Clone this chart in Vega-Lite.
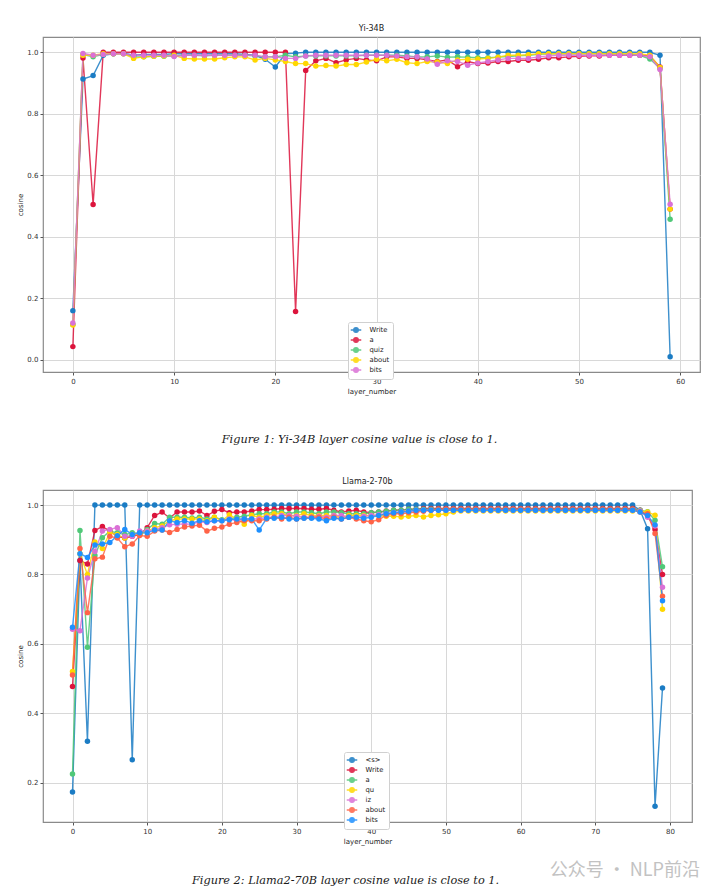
{
"$schema": "https://vega.github.io/schema/vega-lite/v6.json",
"background": "white",
"padding": {"left": 16, "top": 24, "right": 10, "bottom": 0},
"spacing": 8,
"resolve": {"scale": {"color": "independent", "x": "independent", "y": "independent"}, "legend": {"color": "independent"}},
"config": {
  "view": {"stroke": "#8a8a8a", "strokeWidth": 1.2},
  "axis": {"labelFont": "DejaVu Sans", "labelFontSize": 7, "labelColor": "#333", "titleFont": "DejaVu Sans", "titleFontSize": 7, "titleFontWeight": "normal", "titleColor": "#222", "gridColor": "#d8d8d8", "gridWidth": 1, "tickColor": "#555", "tickSize": 3, "labelPadding": 2, "domain": false, "titlePadding": 3},
  "title": {"font": "DejaVu Sans", "fontSize": 8, "fontWeight": "normal", "color": "#222", "offset": 4},
  "legend": {"labelFont": "DejaVu Sans", "labelFontSize": 6.8, "labelColor": "#222", "padding": 3.5, "strokeColor": "#d0d0d0", "fillColor": "white", "cornerRadius": 2, "title": null}
},
"datasets": {
"yi": [
{"layer":0,"token":"Write","cosine":0.16},{"layer":1,"token":"Write","cosine":0.913},{"layer":2,"token":"Write","cosine":0.924},{"layer":3,"token":"Write","cosine":0.99},{"layer":4,"token":"Write","cosine":0.995},{"layer":5,"token":"Write","cosine":0.997},{"layer":6,"token":"Write","cosine":0.99},{"layer":7,"token":"Write","cosine":0.993},{"layer":8,"token":"Write","cosine":0.993},{"layer":9,"token":"Write","cosine":0.993},{"layer":10,"token":"Write","cosine":0.995},{"layer":11,"token":"Write","cosine":0.995},{"layer":12,"token":"Write","cosine":0.995},{"layer":13,"token":"Write","cosine":0.995},{"layer":14,"token":"Write","cosine":0.995},{"layer":15,"token":"Write","cosine":0.995},{"layer":16,"token":"Write","cosine":0.995},{"layer":17,"token":"Write","cosine":0.993},{"layer":18,"token":"Write","cosine":0.99},{"layer":19,"token":"Write","cosine":0.977},{"layer":20,"token":"Write","cosine":0.952},{"layer":21,"token":"Write","cosine":0.995},{"layer":22,"token":"Write","cosine":0.997},{"layer":23,"token":"Write","cosine":1.0},{"layer":24,"token":"Write","cosine":1.0},{"layer":25,"token":"Write","cosine":1.0},{"layer":26,"token":"Write","cosine":1.0},{"layer":27,"token":"Write","cosine":1.0},{"layer":28,"token":"Write","cosine":1.0},{"layer":29,"token":"Write","cosine":1.0},{"layer":30,"token":"Write","cosine":1.0},{"layer":31,"token":"Write","cosine":1.0},{"layer":32,"token":"Write","cosine":1.0},{"layer":33,"token":"Write","cosine":1.0},{"layer":34,"token":"Write","cosine":1.0},{"layer":35,"token":"Write","cosine":1.0},{"layer":36,"token":"Write","cosine":1.0},{"layer":37,"token":"Write","cosine":1.0},{"layer":38,"token":"Write","cosine":1.0},{"layer":39,"token":"Write","cosine":1.0},{"layer":40,"token":"Write","cosine":1.0},{"layer":41,"token":"Write","cosine":1.0},{"layer":42,"token":"Write","cosine":1.0},{"layer":43,"token":"Write","cosine":1.0},{"layer":44,"token":"Write","cosine":1.0},{"layer":45,"token":"Write","cosine":1.0},{"layer":46,"token":"Write","cosine":1.0},{"layer":47,"token":"Write","cosine":1.0},{"layer":48,"token":"Write","cosine":1.0},{"layer":49,"token":"Write","cosine":1.0},{"layer":50,"token":"Write","cosine":1.0},{"layer":51,"token":"Write","cosine":1.0},{"layer":52,"token":"Write","cosine":1.0},{"layer":53,"token":"Write","cosine":1.0},{"layer":54,"token":"Write","cosine":1.0},{"layer":55,"token":"Write","cosine":1.0},{"layer":56,"token":"Write","cosine":1.0},{"layer":57,"token":"Write","cosine":1.0},{"layer":58,"token":"Write","cosine":0.99},{"layer":59,"token":"Write","cosine":0.01},
{"layer":0,"token":"a","cosine":0.043},{"layer":1,"token":"a","cosine":0.981},{"layer":2,"token":"a","cosine":0.505},{"layer":3,"token":"a","cosine":1.0},{"layer":4,"token":"a","cosine":1.0},{"layer":5,"token":"a","cosine":1.0},{"layer":6,"token":"a","cosine":1.0},{"layer":7,"token":"a","cosine":1.0},{"layer":8,"token":"a","cosine":1.0},{"layer":9,"token":"a","cosine":1.0},{"layer":10,"token":"a","cosine":1.0},{"layer":11,"token":"a","cosine":1.0},{"layer":12,"token":"a","cosine":1.0},{"layer":13,"token":"a","cosine":1.0},{"layer":14,"token":"a","cosine":1.0},{"layer":15,"token":"a","cosine":1.0},{"layer":16,"token":"a","cosine":1.0},{"layer":17,"token":"a","cosine":1.0},{"layer":18,"token":"a","cosine":1.0},{"layer":19,"token":"a","cosine":1.0},{"layer":20,"token":"a","cosine":1.0},{"layer":21,"token":"a","cosine":1.0},{"layer":22,"token":"a","cosine":0.157},{"layer":23,"token":"a","cosine":0.941},{"layer":24,"token":"a","cosine":0.972},{"layer":25,"token":"a","cosine":0.98},{"layer":26,"token":"a","cosine":0.966},{"layer":27,"token":"a","cosine":0.975},{"layer":28,"token":"a","cosine":0.98},{"layer":29,"token":"a","cosine":0.975},{"layer":30,"token":"a","cosine":0.972},{"layer":31,"token":"a","cosine":0.985},{"layer":32,"token":"a","cosine":0.985},{"layer":33,"token":"a","cosine":0.98},{"layer":34,"token":"a","cosine":0.98},{"layer":35,"token":"a","cosine":0.975},{"layer":36,"token":"a","cosine":0.97},{"layer":37,"token":"a","cosine":0.975},{"layer":38,"token":"a","cosine":0.953},{"layer":39,"token":"a","cosine":0.97},{"layer":40,"token":"a","cosine":0.963},{"layer":41,"token":"a","cosine":0.965},{"layer":42,"token":"a","cosine":0.97},{"layer":43,"token":"a","cosine":0.97},{"layer":44,"token":"a","cosine":0.974},{"layer":45,"token":"a","cosine":0.974},{"layer":46,"token":"a","cosine":0.977},{"layer":47,"token":"a","cosine":0.982},{"layer":48,"token":"a","cosine":0.982},{"layer":49,"token":"a","cosine":0.985},{"layer":50,"token":"a","cosine":0.987},{"layer":51,"token":"a","cosine":0.988},{"layer":52,"token":"a","cosine":0.988},{"layer":53,"token":"a","cosine":0.99},{"layer":54,"token":"a","cosine":0.99},{"layer":55,"token":"a","cosine":0.99},{"layer":56,"token":"a","cosine":0.99},{"layer":57,"token":"a","cosine":0.988},{"layer":58,"token":"a","cosine":0.952},{"layer":59,"token":"a","cosine":0.49},
{"layer":0,"token":"quiz","cosine":0.115},{"layer":1,"token":"quiz","cosine":0.992},{"layer":2,"token":"quiz","cosine":0.985},{"layer":3,"token":"quiz","cosine":0.993},{"layer":4,"token":"quiz","cosine":0.995},{"layer":5,"token":"quiz","cosine":0.995},{"layer":6,"token":"quiz","cosine":0.985},{"layer":7,"token":"quiz","cosine":0.985},{"layer":8,"token":"quiz","cosine":0.987},{"layer":9,"token":"quiz","cosine":0.987},{"layer":10,"token":"quiz","cosine":0.988},{"layer":11,"token":"quiz","cosine":0.99},{"layer":12,"token":"quiz","cosine":0.99},{"layer":13,"token":"quiz","cosine":0.988},{"layer":14,"token":"quiz","cosine":0.99},{"layer":15,"token":"quiz","cosine":0.99},{"layer":16,"token":"quiz","cosine":0.99},{"layer":17,"token":"quiz","cosine":0.99},{"layer":18,"token":"quiz","cosine":0.988},{"layer":19,"token":"quiz","cosine":0.985},{"layer":20,"token":"quiz","cosine":0.985},{"layer":21,"token":"quiz","cosine":0.99},{"layer":22,"token":"quiz","cosine":0.985},{"layer":23,"token":"quiz","cosine":0.988},{"layer":24,"token":"quiz","cosine":0.988},{"layer":25,"token":"quiz","cosine":0.988},{"layer":26,"token":"quiz","cosine":0.988},{"layer":27,"token":"quiz","cosine":0.988},{"layer":28,"token":"quiz","cosine":0.988},{"layer":29,"token":"quiz","cosine":0.99},{"layer":30,"token":"quiz","cosine":0.99},{"layer":31,"token":"quiz","cosine":0.99},{"layer":32,"token":"quiz","cosine":0.99},{"layer":33,"token":"quiz","cosine":0.988},{"layer":34,"token":"quiz","cosine":0.985},{"layer":35,"token":"quiz","cosine":0.985},{"layer":36,"token":"quiz","cosine":0.988},{"layer":37,"token":"quiz","cosine":0.984},{"layer":38,"token":"quiz","cosine":0.985},{"layer":39,"token":"quiz","cosine":0.984},{"layer":40,"token":"quiz","cosine":0.982},{"layer":41,"token":"quiz","cosine":0.982},{"layer":42,"token":"quiz","cosine":0.984},{"layer":43,"token":"quiz","cosine":0.986},{"layer":44,"token":"quiz","cosine":0.988},{"layer":45,"token":"quiz","cosine":0.99},{"layer":46,"token":"quiz","cosine":0.993},{"layer":47,"token":"quiz","cosine":0.995},{"layer":48,"token":"quiz","cosine":0.995},{"layer":49,"token":"quiz","cosine":0.995},{"layer":50,"token":"quiz","cosine":0.995},{"layer":51,"token":"quiz","cosine":0.995},{"layer":52,"token":"quiz","cosine":0.995},{"layer":53,"token":"quiz","cosine":0.995},{"layer":54,"token":"quiz","cosine":0.995},{"layer":55,"token":"quiz","cosine":0.993},{"layer":56,"token":"quiz","cosine":0.99},{"layer":57,"token":"quiz","cosine":0.978},{"layer":58,"token":"quiz","cosine":0.948},{"layer":59,"token":"quiz","cosine":0.457},
{"layer":0,"token":"about","cosine":0.113},{"layer":1,"token":"about","cosine":0.99},{"layer":2,"token":"about","cosine":0.99},{"layer":3,"token":"about","cosine":0.995},{"layer":4,"token":"about","cosine":0.995},{"layer":5,"token":"about","cosine":0.995},{"layer":6,"token":"about","cosine":0.98},{"layer":7,"token":"about","cosine":0.985},{"layer":8,"token":"about","cosine":0.987},{"layer":9,"token":"about","cosine":0.988},{"layer":10,"token":"about","cosine":0.99},{"layer":11,"token":"about","cosine":0.98},{"layer":12,"token":"about","cosine":0.978},{"layer":13,"token":"about","cosine":0.978},{"layer":14,"token":"about","cosine":0.978},{"layer":15,"token":"about","cosine":0.982},{"layer":16,"token":"about","cosine":0.985},{"layer":17,"token":"about","cosine":0.985},{"layer":18,"token":"about","cosine":0.975},{"layer":19,"token":"about","cosine":0.98},{"layer":20,"token":"about","cosine":0.975},{"layer":21,"token":"about","cosine":0.97},{"layer":22,"token":"about","cosine":0.963},{"layer":23,"token":"about","cosine":0.963},{"layer":24,"token":"about","cosine":0.955},{"layer":25,"token":"about","cosine":0.957},{"layer":26,"token":"about","cosine":0.955},{"layer":27,"token":"about","cosine":0.96},{"layer":28,"token":"about","cosine":0.96},{"layer":29,"token":"about","cosine":0.968},{"layer":30,"token":"about","cosine":0.977},{"layer":31,"token":"about","cosine":0.972},{"layer":32,"token":"about","cosine":0.977},{"layer":33,"token":"about","cosine":0.966},{"layer":34,"token":"about","cosine":0.963},{"layer":35,"token":"about","cosine":0.97},{"layer":36,"token":"about","cosine":0.968},{"layer":37,"token":"about","cosine":0.963},{"layer":38,"token":"about","cosine":0.975},{"layer":39,"token":"about","cosine":0.977},{"layer":40,"token":"about","cosine":0.978},{"layer":41,"token":"about","cosine":0.98},{"layer":42,"token":"about","cosine":0.984},{"layer":43,"token":"about","cosine":0.99},{"layer":44,"token":"about","cosine":0.99},{"layer":45,"token":"about","cosine":0.992},{"layer":46,"token":"about","cosine":0.995},{"layer":47,"token":"about","cosine":0.995},{"layer":48,"token":"about","cosine":0.995},{"layer":49,"token":"about","cosine":0.995},{"layer":50,"token":"about","cosine":0.995},{"layer":51,"token":"about","cosine":0.995},{"layer":52,"token":"about","cosine":0.995},{"layer":53,"token":"about","cosine":0.995},{"layer":54,"token":"about","cosine":0.995},{"layer":55,"token":"about","cosine":0.995},{"layer":56,"token":"about","cosine":0.995},{"layer":57,"token":"about","cosine":0.99},{"layer":58,"token":"about","cosine":0.95},{"layer":59,"token":"about","cosine":0.49},
{"layer":0,"token":"bits","cosine":0.12},{"layer":1,"token":"bits","cosine":0.996},{"layer":2,"token":"bits","cosine":0.99},{"layer":3,"token":"bits","cosine":0.993},{"layer":4,"token":"bits","cosine":0.995},{"layer":5,"token":"bits","cosine":0.995},{"layer":6,"token":"bits","cosine":0.99},{"layer":7,"token":"bits","cosine":0.99},{"layer":8,"token":"bits","cosine":0.99},{"layer":9,"token":"bits","cosine":0.99},{"layer":10,"token":"bits","cosine":0.986},{"layer":11,"token":"bits","cosine":0.99},{"layer":12,"token":"bits","cosine":0.99},{"layer":13,"token":"bits","cosine":0.99},{"layer":14,"token":"bits","cosine":0.99},{"layer":15,"token":"bits","cosine":0.99},{"layer":16,"token":"bits","cosine":0.99},{"layer":17,"token":"bits","cosine":0.99},{"layer":18,"token":"bits","cosine":0.99},{"layer":19,"token":"bits","cosine":0.985},{"layer":20,"token":"bits","cosine":0.985},{"layer":21,"token":"bits","cosine":0.98},{"layer":22,"token":"bits","cosine":0.98},{"layer":23,"token":"bits","cosine":0.988},{"layer":24,"token":"bits","cosine":0.99},{"layer":25,"token":"bits","cosine":0.99},{"layer":26,"token":"bits","cosine":0.99},{"layer":27,"token":"bits","cosine":0.99},{"layer":28,"token":"bits","cosine":0.99},{"layer":29,"token":"bits","cosine":0.99},{"layer":30,"token":"bits","cosine":0.99},{"layer":31,"token":"bits","cosine":0.99},{"layer":32,"token":"bits","cosine":0.988},{"layer":33,"token":"bits","cosine":0.985},{"layer":34,"token":"bits","cosine":0.985},{"layer":35,"token":"bits","cosine":0.978},{"layer":36,"token":"bits","cosine":0.961},{"layer":37,"token":"bits","cosine":0.972},{"layer":38,"token":"bits","cosine":0.97},{"layer":39,"token":"bits","cosine":0.958},{"layer":40,"token":"bits","cosine":0.965},{"layer":41,"token":"bits","cosine":0.97},{"layer":42,"token":"bits","cosine":0.975},{"layer":43,"token":"bits","cosine":0.98},{"layer":44,"token":"bits","cosine":0.98},{"layer":45,"token":"bits","cosine":0.98},{"layer":46,"token":"bits","cosine":0.985},{"layer":47,"token":"bits","cosine":0.988},{"layer":48,"token":"bits","cosine":0.99},{"layer":49,"token":"bits","cosine":0.99},{"layer":50,"token":"bits","cosine":0.99},{"layer":51,"token":"bits","cosine":0.99},{"layer":52,"token":"bits","cosine":0.99},{"layer":53,"token":"bits","cosine":0.99},{"layer":54,"token":"bits","cosine":0.99},{"layer":55,"token":"bits","cosine":0.99},{"layer":56,"token":"bits","cosine":0.99},{"layer":57,"token":"bits","cosine":0.985},{"layer":58,"token":"bits","cosine":0.944},{"layer":59,"token":"bits","cosine":0.506}
],
"llama": [
{"layer":0,"token":"<s>","cosine":0.173},{"layer":1,"token":"<s>","cosine":0.84},{"layer":2,"token":"<s>","cosine":0.319},{"layer":3,"token":"<s>","cosine":1.0},{"layer":4,"token":"<s>","cosine":1.0},{"layer":5,"token":"<s>","cosine":1.0},{"layer":6,"token":"<s>","cosine":1.0},{"layer":7,"token":"<s>","cosine":1.0},{"layer":8,"token":"<s>","cosine":0.266},{"layer":9,"token":"<s>","cosine":1.0},{"layer":10,"token":"<s>","cosine":1.0},{"layer":11,"token":"<s>","cosine":1.0},{"layer":12,"token":"<s>","cosine":1.0},{"layer":13,"token":"<s>","cosine":1.0},{"layer":14,"token":"<s>","cosine":1.0},{"layer":15,"token":"<s>","cosine":1.0},{"layer":16,"token":"<s>","cosine":1.0},{"layer":17,"token":"<s>","cosine":1.0},{"layer":18,"token":"<s>","cosine":1.0},{"layer":19,"token":"<s>","cosine":1.0},{"layer":20,"token":"<s>","cosine":1.0},{"layer":21,"token":"<s>","cosine":1.0},{"layer":22,"token":"<s>","cosine":1.0},{"layer":23,"token":"<s>","cosine":1.0},{"layer":24,"token":"<s>","cosine":1.0},{"layer":25,"token":"<s>","cosine":1.0},{"layer":26,"token":"<s>","cosine":1.0},{"layer":27,"token":"<s>","cosine":1.0},{"layer":28,"token":"<s>","cosine":1.0},{"layer":29,"token":"<s>","cosine":1.0},{"layer":30,"token":"<s>","cosine":1.0},{"layer":31,"token":"<s>","cosine":1.0},{"layer":32,"token":"<s>","cosine":1.0},{"layer":33,"token":"<s>","cosine":1.0},{"layer":34,"token":"<s>","cosine":1.0},{"layer":35,"token":"<s>","cosine":1.0},{"layer":36,"token":"<s>","cosine":1.0},{"layer":37,"token":"<s>","cosine":1.0},{"layer":38,"token":"<s>","cosine":1.0},{"layer":39,"token":"<s>","cosine":1.0},{"layer":40,"token":"<s>","cosine":1.0},{"layer":41,"token":"<s>","cosine":1.0},{"layer":42,"token":"<s>","cosine":1.0},{"layer":43,"token":"<s>","cosine":1.0},{"layer":44,"token":"<s>","cosine":1.0},{"layer":45,"token":"<s>","cosine":1.0},{"layer":46,"token":"<s>","cosine":1.0},{"layer":47,"token":"<s>","cosine":1.0},{"layer":48,"token":"<s>","cosine":1.0},{"layer":49,"token":"<s>","cosine":1.0},{"layer":50,"token":"<s>","cosine":1.0},{"layer":51,"token":"<s>","cosine":1.0},{"layer":52,"token":"<s>","cosine":1.0},{"layer":53,"token":"<s>","cosine":1.0},{"layer":54,"token":"<s>","cosine":1.0},{"layer":55,"token":"<s>","cosine":1.0},{"layer":56,"token":"<s>","cosine":1.0},{"layer":57,"token":"<s>","cosine":1.0},{"layer":58,"token":"<s>","cosine":1.0},{"layer":59,"token":"<s>","cosine":1.0},{"layer":60,"token":"<s>","cosine":1.0},{"layer":61,"token":"<s>","cosine":1.0},{"layer":62,"token":"<s>","cosine":1.0},{"layer":63,"token":"<s>","cosine":1.0},{"layer":64,"token":"<s>","cosine":1.0},{"layer":65,"token":"<s>","cosine":1.0},{"layer":66,"token":"<s>","cosine":1.0},{"layer":67,"token":"<s>","cosine":1.0},{"layer":68,"token":"<s>","cosine":1.0},{"layer":69,"token":"<s>","cosine":1.0},{"layer":70,"token":"<s>","cosine":1.0},{"layer":71,"token":"<s>","cosine":1.0},{"layer":72,"token":"<s>","cosine":1.0},{"layer":73,"token":"<s>","cosine":1.0},{"layer":74,"token":"<s>","cosine":1.0},{"layer":75,"token":"<s>","cosine":1.0},{"layer":76,"token":"<s>","cosine":0.985},{"layer":77,"token":"<s>","cosine":0.932},{"layer":78,"token":"<s>","cosine":0.132},{"layer":79,"token":"<s>","cosine":0.473},
{"layer":0,"token":"Write","cosine":0.477},{"layer":1,"token":"Write","cosine":0.84},{"layer":2,"token":"Write","cosine":0.83},{"layer":3,"token":"Write","cosine":0.927},{"layer":4,"token":"Write","cosine":0.938},{"layer":5,"token":"Write","cosine":0.925},{"layer":6,"token":"Write","cosine":0.91},{"layer":7,"token":"Write","cosine":0.905},{"layer":8,"token":"Write","cosine":0.91},{"layer":9,"token":"Write","cosine":0.915},{"layer":10,"token":"Write","cosine":0.935},{"layer":11,"token":"Write","cosine":0.97},{"layer":12,"token":"Write","cosine":0.98},{"layer":13,"token":"Write","cosine":0.963},{"layer":14,"token":"Write","cosine":0.98},{"layer":15,"token":"Write","cosine":0.98},{"layer":16,"token":"Write","cosine":0.98},{"layer":17,"token":"Write","cosine":0.983},{"layer":18,"token":"Write","cosine":0.97},{"layer":19,"token":"Write","cosine":0.982},{"layer":20,"token":"Write","cosine":0.987},{"layer":21,"token":"Write","cosine":0.978},{"layer":22,"token":"Write","cosine":0.98},{"layer":23,"token":"Write","cosine":0.98},{"layer":24,"token":"Write","cosine":0.983},{"layer":25,"token":"Write","cosine":0.987},{"layer":26,"token":"Write","cosine":0.987},{"layer":27,"token":"Write","cosine":0.988},{"layer":28,"token":"Write","cosine":0.99},{"layer":29,"token":"Write","cosine":0.99},{"layer":30,"token":"Write","cosine":0.99},{"layer":31,"token":"Write","cosine":0.99},{"layer":32,"token":"Write","cosine":0.988},{"layer":33,"token":"Write","cosine":0.988},{"layer":34,"token":"Write","cosine":0.99},{"layer":35,"token":"Write","cosine":0.985},{"layer":36,"token":"Write","cosine":0.98},{"layer":37,"token":"Write","cosine":0.983},{"layer":38,"token":"Write","cosine":0.985},{"layer":39,"token":"Write","cosine":0.98},{"layer":40,"token":"Write","cosine":0.978},{"layer":41,"token":"Write","cosine":0.98},{"layer":42,"token":"Write","cosine":0.983},{"layer":43,"token":"Write","cosine":0.985},{"layer":44,"token":"Write","cosine":0.985},{"layer":45,"token":"Write","cosine":0.988},{"layer":46,"token":"Write","cosine":0.988},{"layer":47,"token":"Write","cosine":0.99},{"layer":48,"token":"Write","cosine":0.99},{"layer":49,"token":"Write","cosine":0.99},{"layer":50,"token":"Write","cosine":0.99},{"layer":51,"token":"Write","cosine":0.99},{"layer":52,"token":"Write","cosine":0.99},{"layer":53,"token":"Write","cosine":0.99},{"layer":54,"token":"Write","cosine":0.99},{"layer":55,"token":"Write","cosine":0.99},{"layer":56,"token":"Write","cosine":0.99},{"layer":57,"token":"Write","cosine":0.99},{"layer":58,"token":"Write","cosine":0.99},{"layer":59,"token":"Write","cosine":0.99},{"layer":60,"token":"Write","cosine":0.99},{"layer":61,"token":"Write","cosine":0.99},{"layer":62,"token":"Write","cosine":0.99},{"layer":63,"token":"Write","cosine":0.99},{"layer":64,"token":"Write","cosine":0.99},{"layer":65,"token":"Write","cosine":0.99},{"layer":66,"token":"Write","cosine":0.99},{"layer":67,"token":"Write","cosine":0.99},{"layer":68,"token":"Write","cosine":0.99},{"layer":69,"token":"Write","cosine":0.99},{"layer":70,"token":"Write","cosine":0.99},{"layer":71,"token":"Write","cosine":0.99},{"layer":72,"token":"Write","cosine":0.99},{"layer":73,"token":"Write","cosine":0.99},{"layer":74,"token":"Write","cosine":0.99},{"layer":75,"token":"Write","cosine":0.99},{"layer":76,"token":"Write","cosine":0.985},{"layer":77,"token":"Write","cosine":0.97},{"layer":78,"token":"Write","cosine":0.93},{"layer":79,"token":"Write","cosine":0.8},
{"layer":0,"token":"a","cosine":0.225},{"layer":1,"token":"a","cosine":0.927},{"layer":2,"token":"a","cosine":0.59},{"layer":3,"token":"a","cosine":0.855},{"layer":4,"token":"a","cosine":0.906},{"layer":5,"token":"a","cosine":0.925},{"layer":6,"token":"a","cosine":0.92},{"layer":7,"token":"a","cosine":0.915},{"layer":8,"token":"a","cosine":0.92},{"layer":9,"token":"a","cosine":0.92},{"layer":10,"token":"a","cosine":0.93},{"layer":11,"token":"a","cosine":0.947},{"layer":12,"token":"a","cosine":0.945},{"layer":13,"token":"a","cosine":0.965},{"layer":14,"token":"a","cosine":0.965},{"layer":15,"token":"a","cosine":0.965},{"layer":16,"token":"a","cosine":0.963},{"layer":17,"token":"a","cosine":0.965},{"layer":18,"token":"a","cosine":0.96},{"layer":19,"token":"a","cosine":0.965},{"layer":20,"token":"a","cosine":0.958},{"layer":21,"token":"a","cosine":0.96},{"layer":22,"token":"a","cosine":0.965},{"layer":23,"token":"a","cosine":0.968},{"layer":24,"token":"a","cosine":0.972},{"layer":25,"token":"a","cosine":0.975},{"layer":26,"token":"a","cosine":0.975},{"layer":27,"token":"a","cosine":0.98},{"layer":28,"token":"a","cosine":0.98},{"layer":29,"token":"a","cosine":0.975},{"layer":30,"token":"a","cosine":0.98},{"layer":31,"token":"a","cosine":0.98},{"layer":32,"token":"a","cosine":0.978},{"layer":33,"token":"a","cosine":0.975},{"layer":34,"token":"a","cosine":0.98},{"layer":35,"token":"a","cosine":0.98},{"layer":36,"token":"a","cosine":0.978},{"layer":37,"token":"a","cosine":0.975},{"layer":38,"token":"a","cosine":0.975},{"layer":39,"token":"a","cosine":0.975},{"layer":40,"token":"a","cosine":0.978},{"layer":41,"token":"a","cosine":0.98},{"layer":42,"token":"a","cosine":0.982},{"layer":43,"token":"a","cosine":0.985},{"layer":44,"token":"a","cosine":0.985},{"layer":45,"token":"a","cosine":0.988},{"layer":46,"token":"a","cosine":0.988},{"layer":47,"token":"a","cosine":0.988},{"layer":48,"token":"a","cosine":0.988},{"layer":49,"token":"a","cosine":0.988},{"layer":50,"token":"a","cosine":0.988},{"layer":51,"token":"a","cosine":0.988},{"layer":52,"token":"a","cosine":0.988},{"layer":53,"token":"a","cosine":0.988},{"layer":54,"token":"a","cosine":0.988},{"layer":55,"token":"a","cosine":0.988},{"layer":56,"token":"a","cosine":0.988},{"layer":57,"token":"a","cosine":0.988},{"layer":58,"token":"a","cosine":0.988},{"layer":59,"token":"a","cosine":0.988},{"layer":60,"token":"a","cosine":0.988},{"layer":61,"token":"a","cosine":0.988},{"layer":62,"token":"a","cosine":0.988},{"layer":63,"token":"a","cosine":0.988},{"layer":64,"token":"a","cosine":0.988},{"layer":65,"token":"a","cosine":0.988},{"layer":66,"token":"a","cosine":0.988},{"layer":67,"token":"a","cosine":0.988},{"layer":68,"token":"a","cosine":0.988},{"layer":69,"token":"a","cosine":0.988},{"layer":70,"token":"a","cosine":0.988},{"layer":71,"token":"a","cosine":0.988},{"layer":72,"token":"a","cosine":0.988},{"layer":73,"token":"a","cosine":0.988},{"layer":74,"token":"a","cosine":0.988},{"layer":75,"token":"a","cosine":0.988},{"layer":76,"token":"a","cosine":0.985},{"layer":77,"token":"a","cosine":0.981},{"layer":78,"token":"a","cosine":0.956},{"layer":79,"token":"a","cosine":0.822},
{"layer":0,"token":"qu","cosine":0.52},{"layer":1,"token":"qu","cosine":0.86},{"layer":2,"token":"qu","cosine":0.8},{"layer":3,"token":"qu","cosine":0.894},{"layer":4,"token":"qu","cosine":0.875},{"layer":5,"token":"qu","cosine":0.92},{"layer":6,"token":"qu","cosine":0.915},{"layer":7,"token":"qu","cosine":0.905},{"layer":8,"token":"qu","cosine":0.915},{"layer":9,"token":"qu","cosine":0.915},{"layer":10,"token":"qu","cosine":0.925},{"layer":11,"token":"qu","cosine":0.935},{"layer":12,"token":"qu","cosine":0.94},{"layer":13,"token":"qu","cosine":0.955},{"layer":14,"token":"qu","cosine":0.96},{"layer":15,"token":"qu","cosine":0.96},{"layer":16,"token":"qu","cosine":0.96},{"layer":17,"token":"qu","cosine":0.96},{"layer":18,"token":"qu","cosine":0.955},{"layer":19,"token":"qu","cosine":0.965},{"layer":20,"token":"qu","cosine":0.955},{"layer":21,"token":"qu","cosine":0.972},{"layer":22,"token":"qu","cosine":0.96},{"layer":23,"token":"qu","cosine":0.945},{"layer":24,"token":"qu","cosine":0.97},{"layer":25,"token":"qu","cosine":0.965},{"layer":26,"token":"qu","cosine":0.97},{"layer":27,"token":"qu","cosine":0.975},{"layer":28,"token":"qu","cosine":0.975},{"layer":29,"token":"qu","cosine":0.97},{"layer":30,"token":"qu","cosine":0.97},{"layer":31,"token":"qu","cosine":0.975},{"layer":32,"token":"qu","cosine":0.97},{"layer":33,"token":"qu","cosine":0.97},{"layer":34,"token":"qu","cosine":0.97},{"layer":35,"token":"qu","cosine":0.97},{"layer":36,"token":"qu","cosine":0.965},{"layer":37,"token":"qu","cosine":0.97},{"layer":38,"token":"qu","cosine":0.97},{"layer":39,"token":"qu","cosine":0.97},{"layer":40,"token":"qu","cosine":0.97},{"layer":41,"token":"qu","cosine":0.97},{"layer":42,"token":"qu","cosine":0.968},{"layer":43,"token":"qu","cosine":0.968},{"layer":44,"token":"qu","cosine":0.966},{"layer":45,"token":"qu","cosine":0.968},{"layer":46,"token":"qu","cosine":0.97},{"layer":47,"token":"qu","cosine":0.966},{"layer":48,"token":"qu","cosine":0.97},{"layer":49,"token":"qu","cosine":0.972},{"layer":50,"token":"qu","cosine":0.975},{"layer":51,"token":"qu","cosine":0.98},{"layer":52,"token":"qu","cosine":0.983},{"layer":53,"token":"qu","cosine":0.983},{"layer":54,"token":"qu","cosine":0.983},{"layer":55,"token":"qu","cosine":0.983},{"layer":56,"token":"qu","cosine":0.983},{"layer":57,"token":"qu","cosine":0.983},{"layer":58,"token":"qu","cosine":0.983},{"layer":59,"token":"qu","cosine":0.983},{"layer":60,"token":"qu","cosine":0.983},{"layer":61,"token":"qu","cosine":0.983},{"layer":62,"token":"qu","cosine":0.983},{"layer":63,"token":"qu","cosine":0.983},{"layer":64,"token":"qu","cosine":0.983},{"layer":65,"token":"qu","cosine":0.983},{"layer":66,"token":"qu","cosine":0.983},{"layer":67,"token":"qu","cosine":0.983},{"layer":68,"token":"qu","cosine":0.983},{"layer":69,"token":"qu","cosine":0.983},{"layer":70,"token":"qu","cosine":0.983},{"layer":71,"token":"qu","cosine":0.983},{"layer":72,"token":"qu","cosine":0.983},{"layer":73,"token":"qu","cosine":0.983},{"layer":74,"token":"qu","cosine":0.983},{"layer":75,"token":"qu","cosine":0.983},{"layer":76,"token":"qu","cosine":0.983},{"layer":77,"token":"qu","cosine":0.98},{"layer":78,"token":"qu","cosine":0.971},{"layer":79,"token":"qu","cosine":0.7},
{"layer":0,"token":"iz","cosine":0.642},{"layer":1,"token":"iz","cosine":0.638},{"layer":2,"token":"iz","cosine":0.79},{"layer":3,"token":"iz","cosine":0.866},{"layer":4,"token":"iz","cosine":0.925},{"layer":5,"token":"iz","cosine":0.93},{"layer":6,"token":"iz","cosine":0.935},{"layer":7,"token":"iz","cosine":0.91},{"layer":8,"token":"iz","cosine":0.91},{"layer":9,"token":"iz","cosine":0.925},{"layer":10,"token":"iz","cosine":0.925},{"layer":11,"token":"iz","cosine":0.93},{"layer":12,"token":"iz","cosine":0.935},{"layer":13,"token":"iz","cosine":0.943},{"layer":14,"token":"iz","cosine":0.945},{"layer":15,"token":"iz","cosine":0.945},{"layer":16,"token":"iz","cosine":0.945},{"layer":17,"token":"iz","cosine":0.952},{"layer":18,"token":"iz","cosine":0.95},{"layer":19,"token":"iz","cosine":0.955},{"layer":20,"token":"iz","cosine":0.955},{"layer":21,"token":"iz","cosine":0.96},{"layer":22,"token":"iz","cosine":0.955},{"layer":23,"token":"iz","cosine":0.96},{"layer":24,"token":"iz","cosine":0.96},{"layer":25,"token":"iz","cosine":0.96},{"layer":26,"token":"iz","cosine":0.965},{"layer":27,"token":"iz","cosine":0.965},{"layer":28,"token":"iz","cosine":0.97},{"layer":29,"token":"iz","cosine":0.97},{"layer":30,"token":"iz","cosine":0.968},{"layer":31,"token":"iz","cosine":0.965},{"layer":32,"token":"iz","cosine":0.965},{"layer":33,"token":"iz","cosine":0.968},{"layer":34,"token":"iz","cosine":0.965},{"layer":35,"token":"iz","cosine":0.97},{"layer":36,"token":"iz","cosine":0.97},{"layer":37,"token":"iz","cosine":0.965},{"layer":38,"token":"iz","cosine":0.965},{"layer":39,"token":"iz","cosine":0.968},{"layer":40,"token":"iz","cosine":0.97},{"layer":41,"token":"iz","cosine":0.972},{"layer":42,"token":"iz","cosine":0.975},{"layer":43,"token":"iz","cosine":0.978},{"layer":44,"token":"iz","cosine":0.98},{"layer":45,"token":"iz","cosine":0.982},{"layer":46,"token":"iz","cosine":0.985},{"layer":47,"token":"iz","cosine":0.985},{"layer":48,"token":"iz","cosine":0.985},{"layer":49,"token":"iz","cosine":0.985},{"layer":50,"token":"iz","cosine":0.985},{"layer":51,"token":"iz","cosine":0.985},{"layer":52,"token":"iz","cosine":0.985},{"layer":53,"token":"iz","cosine":0.985},{"layer":54,"token":"iz","cosine":0.985},{"layer":55,"token":"iz","cosine":0.985},{"layer":56,"token":"iz","cosine":0.985},{"layer":57,"token":"iz","cosine":0.985},{"layer":58,"token":"iz","cosine":0.985},{"layer":59,"token":"iz","cosine":0.985},{"layer":60,"token":"iz","cosine":0.985},{"layer":61,"token":"iz","cosine":0.985},{"layer":62,"token":"iz","cosine":0.985},{"layer":63,"token":"iz","cosine":0.985},{"layer":64,"token":"iz","cosine":0.985},{"layer":65,"token":"iz","cosine":0.985},{"layer":66,"token":"iz","cosine":0.985},{"layer":67,"token":"iz","cosine":0.985},{"layer":68,"token":"iz","cosine":0.985},{"layer":69,"token":"iz","cosine":0.985},{"layer":70,"token":"iz","cosine":0.985},{"layer":71,"token":"iz","cosine":0.985},{"layer":72,"token":"iz","cosine":0.985},{"layer":73,"token":"iz","cosine":0.985},{"layer":74,"token":"iz","cosine":0.985},{"layer":75,"token":"iz","cosine":0.985},{"layer":76,"token":"iz","cosine":0.983},{"layer":77,"token":"iz","cosine":0.965},{"layer":78,"token":"iz","cosine":0.94},{"layer":79,"token":"iz","cosine":0.763},
{"layer":0,"token":"about","cosine":0.51},{"layer":1,"token":"about","cosine":0.875},{"layer":2,"token":"about","cosine":0.69},{"layer":3,"token":"about","cosine":0.845},{"layer":4,"token":"about","cosine":0.85},{"layer":5,"token":"about","cosine":0.91},{"layer":6,"token":"about","cosine":0.905},{"layer":7,"token":"about","cosine":0.88},{"layer":8,"token":"about","cosine":0.888},{"layer":9,"token":"about","cosine":0.912},{"layer":10,"token":"about","cosine":0.91},{"layer":11,"token":"about","cosine":0.925},{"layer":12,"token":"about","cosine":0.928},{"layer":13,"token":"about","cosine":0.921},{"layer":14,"token":"about","cosine":0.93},{"layer":15,"token":"about","cosine":0.937},{"layer":16,"token":"about","cosine":0.94},{"layer":17,"token":"about","cosine":0.942},{"layer":18,"token":"about","cosine":0.925},{"layer":19,"token":"about","cosine":0.933},{"layer":20,"token":"about","cosine":0.937},{"layer":21,"token":"about","cosine":0.945},{"layer":22,"token":"about","cosine":0.95},{"layer":23,"token":"about","cosine":0.955},{"layer":24,"token":"about","cosine":0.955},{"layer":25,"token":"about","cosine":0.955},{"layer":26,"token":"about","cosine":0.96},{"layer":27,"token":"about","cosine":0.965},{"layer":28,"token":"about","cosine":0.96},{"layer":29,"token":"about","cosine":0.965},{"layer":30,"token":"about","cosine":0.96},{"layer":31,"token":"about","cosine":0.963},{"layer":32,"token":"about","cosine":0.965},{"layer":33,"token":"about","cosine":0.965},{"layer":34,"token":"about","cosine":0.96},{"layer":35,"token":"about","cosine":0.965},{"layer":36,"token":"about","cosine":0.96},{"layer":37,"token":"about","cosine":0.965},{"layer":38,"token":"about","cosine":0.96},{"layer":39,"token":"about","cosine":0.955},{"layer":40,"token":"about","cosine":0.952},{"layer":41,"token":"about","cosine":0.958},{"layer":42,"token":"about","cosine":0.97},{"layer":43,"token":"about","cosine":0.975},{"layer":44,"token":"about","cosine":0.975},{"layer":45,"token":"about","cosine":0.978},{"layer":46,"token":"about","cosine":0.98},{"layer":47,"token":"about","cosine":0.982},{"layer":48,"token":"about","cosine":0.985},{"layer":49,"token":"about","cosine":0.988},{"layer":50,"token":"about","cosine":0.988},{"layer":51,"token":"about","cosine":0.988},{"layer":52,"token":"about","cosine":0.988},{"layer":53,"token":"about","cosine":0.988},{"layer":54,"token":"about","cosine":0.988},{"layer":55,"token":"about","cosine":0.988},{"layer":56,"token":"about","cosine":0.988},{"layer":57,"token":"about","cosine":0.988},{"layer":58,"token":"about","cosine":0.988},{"layer":59,"token":"about","cosine":0.988},{"layer":60,"token":"about","cosine":0.988},{"layer":61,"token":"about","cosine":0.988},{"layer":62,"token":"about","cosine":0.988},{"layer":63,"token":"about","cosine":0.988},{"layer":64,"token":"about","cosine":0.988},{"layer":65,"token":"about","cosine":0.988},{"layer":66,"token":"about","cosine":0.988},{"layer":67,"token":"about","cosine":0.988},{"layer":68,"token":"about","cosine":0.988},{"layer":69,"token":"about","cosine":0.988},{"layer":70,"token":"about","cosine":0.988},{"layer":71,"token":"about","cosine":0.988},{"layer":72,"token":"about","cosine":0.988},{"layer":73,"token":"about","cosine":0.988},{"layer":74,"token":"about","cosine":0.988},{"layer":75,"token":"about","cosine":0.988},{"layer":76,"token":"about","cosine":0.98},{"layer":77,"token":"about","cosine":0.975},{"layer":78,"token":"about","cosine":0.918},{"layer":79,"token":"about","cosine":0.737},
{"layer":0,"token":"bits","cosine":0.648},{"layer":1,"token":"bits","cosine":0.86},{"layer":2,"token":"bits","cosine":0.849},{"layer":3,"token":"bits","cosine":0.885},{"layer":4,"token":"bits","cosine":0.888},{"layer":5,"token":"bits","cosine":0.892},{"layer":6,"token":"bits","cosine":0.912},{"layer":7,"token":"bits","cosine":0.93},{"layer":8,"token":"bits","cosine":0.915},{"layer":9,"token":"bits","cosine":0.92},{"layer":10,"token":"bits","cosine":0.92},{"layer":11,"token":"bits","cosine":0.928},{"layer":12,"token":"bits","cosine":0.928},{"layer":13,"token":"bits","cosine":0.955},{"layer":14,"token":"bits","cosine":0.95},{"layer":15,"token":"bits","cosine":0.955},{"layer":16,"token":"bits","cosine":0.948},{"layer":17,"token":"bits","cosine":0.955},{"layer":18,"token":"bits","cosine":0.952},{"layer":19,"token":"bits","cosine":0.955},{"layer":20,"token":"bits","cosine":0.955},{"layer":21,"token":"bits","cosine":0.958},{"layer":22,"token":"bits","cosine":0.96},{"layer":23,"token":"bits","cosine":0.96},{"layer":24,"token":"bits","cosine":0.96},{"layer":25,"token":"bits","cosine":0.928},{"layer":26,"token":"bits","cosine":0.962},{"layer":27,"token":"bits","cosine":0.962},{"layer":28,"token":"bits","cosine":0.965},{"layer":29,"token":"bits","cosine":0.96},{"layer":30,"token":"bits","cosine":0.96},{"layer":31,"token":"bits","cosine":0.962},{"layer":32,"token":"bits","cosine":0.962},{"layer":33,"token":"bits","cosine":0.96},{"layer":34,"token":"bits","cosine":0.955},{"layer":35,"token":"bits","cosine":0.962},{"layer":36,"token":"bits","cosine":0.96},{"layer":37,"token":"bits","cosine":0.965},{"layer":38,"token":"bits","cosine":0.965},{"layer":39,"token":"bits","cosine":0.962},{"layer":40,"token":"bits","cosine":0.965},{"layer":41,"token":"bits","cosine":0.97},{"layer":42,"token":"bits","cosine":0.975},{"layer":43,"token":"bits","cosine":0.978},{"layer":44,"token":"bits","cosine":0.98},{"layer":45,"token":"bits","cosine":0.982},{"layer":46,"token":"bits","cosine":0.985},{"layer":47,"token":"bits","cosine":0.985},{"layer":48,"token":"bits","cosine":0.985},{"layer":49,"token":"bits","cosine":0.985},{"layer":50,"token":"bits","cosine":0.985},{"layer":51,"token":"bits","cosine":0.985},{"layer":52,"token":"bits","cosine":0.985},{"layer":53,"token":"bits","cosine":0.985},{"layer":54,"token":"bits","cosine":0.985},{"layer":55,"token":"bits","cosine":0.985},{"layer":56,"token":"bits","cosine":0.985},{"layer":57,"token":"bits","cosine":0.985},{"layer":58,"token":"bits","cosine":0.985},{"layer":59,"token":"bits","cosine":0.985},{"layer":60,"token":"bits","cosine":0.985},{"layer":61,"token":"bits","cosine":0.985},{"layer":62,"token":"bits","cosine":0.985},{"layer":63,"token":"bits","cosine":0.985},{"layer":64,"token":"bits","cosine":0.985},{"layer":65,"token":"bits","cosine":0.985},{"layer":66,"token":"bits","cosine":0.985},{"layer":67,"token":"bits","cosine":0.985},{"layer":68,"token":"bits","cosine":0.985},{"layer":69,"token":"bits","cosine":0.985},{"layer":70,"token":"bits","cosine":0.985},{"layer":71,"token":"bits","cosine":0.985},{"layer":72,"token":"bits","cosine":0.985},{"layer":73,"token":"bits","cosine":0.985},{"layer":74,"token":"bits","cosine":0.985},{"layer":75,"token":"bits","cosine":0.985},{"layer":76,"token":"bits","cosine":0.98},{"layer":77,"token":"bits","cosine":0.97},{"layer":78,"token":"bits","cosine":0.943},{"layer":79,"token":"bits","cosine":0.724}
]
},
"vconcat": [
{
  "width": 657, "height": 335,
  "title": {"text": "Yi-34B"},
  "data": {"name": "yi"},
  "encoding": {
    "x": {"field": "layer", "type": "quantitative", "scale": {"domain": [-2.95, 61.95], "nice": false, "zero": false}, "axis": {"values": [0,10,20,30,40,50,60], "title": "layer_number"}},
    "y": {"field": "cosine", "type": "quantitative", "scale": {"domain": [-0.0395, 1.0495], "nice": false, "zero": false}, "axis": {"values": [0,0.2,0.4,0.6,0.8,1.0], "format": ".1f", "title": "cosine"}},
    "color": {"field": "token", "type": "nominal", "scale": {"domain": ["Write","a","quiz","about","bits"], "range": ["#1b7cc4","#dc143c","#50c878","#ffd700","#da70d6"]}, "legend": {"orient": "none", "legendX": 305, "legendY": 285, "symbolSize": 49, "rowPadding": -4.6, "labelOffset": 9, "symbolStrokeWidth": 1.4, "symbolType": "M-1.5,0L1.5,0M0.65,0A0.65,0.65,0,1,1,-0.65,0A0.65,0.65,0,1,1,0.65,0"}}
  },
  "layer": [
    {"mark": {"type": "line", "strokeWidth": 1.4, "opacity": 0.85}},
    {"mark": {"type": "point", "filled": true, "size": 30, "opacity": 1}}
  ]
},
{
  "width": 649, "height": 66,
  "view": {"stroke": null},
  "data": {"values": [{"caption": "Figure 1: Yi-34B layer cosine value is close to 1."}]},
  "mark": {"type": "text", "font": "DejaVu Serif", "fontStyle": "italic", "fontSize": 11.3, "color": "#1a1a1a", "dy": 4, "dx": -8},
  "encoding": {"text": {"field": "caption", "type": "nominal"}}
},
{
  "width": 649, "height": 332,
  "title": {"text": "Llama-2-70b"},
  "data": {"name": "llama"},
  "encoding": {
    "x": {"field": "layer", "type": "quantitative", "scale": {"domain": [-3.95, 82.95], "nice": false, "zero": false}, "axis": {"values": [0,10,20,30,40,50,60,70,80], "title": "layer_number"}},
    "y": {"field": "cosine", "type": "quantitative", "scale": {"domain": [0.0865, 1.0435], "nice": false, "zero": false}, "axis": {"values": [0.2,0.4,0.6,0.8,1.0], "format": ".1f", "title": "cosine"}},
    "color": {"field": "token", "type": "nominal", "scale": {"domain": ["<s>","Write","a","qu","iz","about","bits"], "range": ["#1b7cc4","#dc143c","#50c878","#ffd700","#da70d6","#ff6347","#1e90ff"]}, "legend": {"orient": "none", "legendX": 301, "legendY": 262, "symbolSize": 49, "rowPadding": -4.6, "labelOffset": 9, "symbolStrokeWidth": 1.4, "symbolType": "M-1.5,0L1.5,0M0.65,0A0.65,0.65,0,1,1,-0.65,0A0.65,0.65,0,1,1,0.65,0"}}
  },
  "layer": [
    {"mark": {"type": "line", "strokeWidth": 1.4, "opacity": 0.85}},
    {"mark": {"type": "point", "filled": true, "size": 30, "opacity": 1}}
  ]
},
{
  "width": 649, "height": 40,
  "view": {"stroke": null},
  "title": {"text": "公众号 · NLP前沿", "anchor": "end", "font": "Noto Sans CJK SC", "fontSize": 18, "color": "#c2c2c2", "offset": -24, "dx": 8, "dy": 3},
  "data": {"values": [{"caption": "Figure 2: Llama2-70B layer cosine value is close to 1."}]},
  "mark": {"type": "text", "font": "DejaVu Serif", "fontStyle": "italic", "fontSize": 11.3, "color": "#1a1a1a", "dy": 8, "dx": -22},
  "encoding": {"text": {"field": "caption", "type": "nominal"}}
}
]
}
